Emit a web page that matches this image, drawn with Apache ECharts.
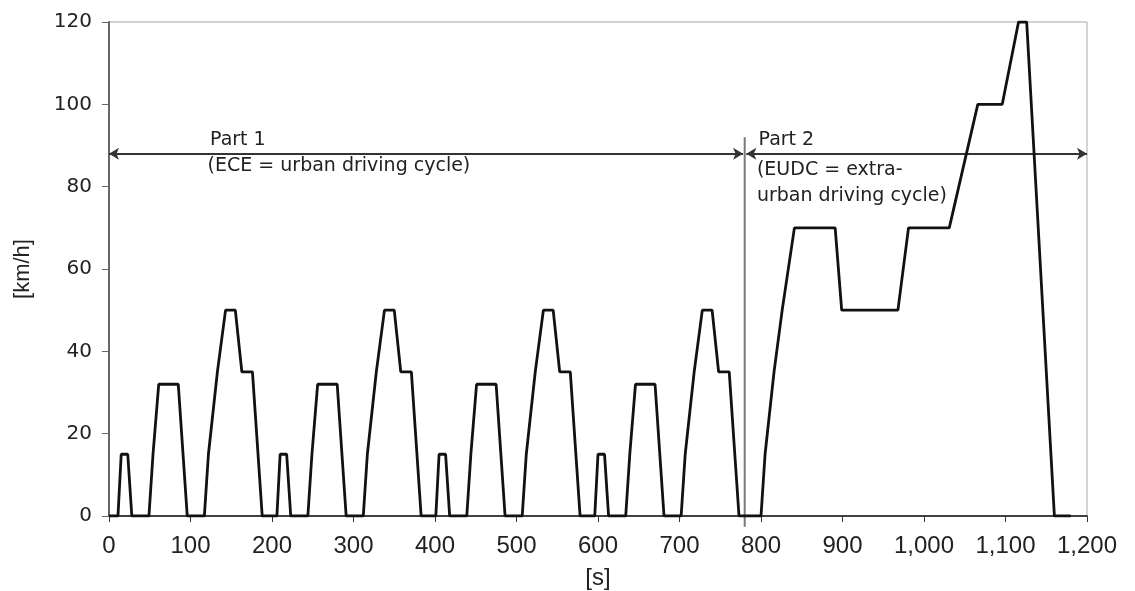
<!DOCTYPE html>
<html>
<head>
<meta charset="utf-8">
<script src="https://cdn.jsdelivr.net/npm/echarts@6/dist/echarts.min.js"></script>
<style>
  html, body { margin: 0; padding: 0; background: #fff; }
  #chart { width: 1135px; height: 591px; }
</style>
</head>
<body>
<div id="chart"></div>
<script>
// ECE urban cycle (one repetition, 195 s): time [s] and speed [km/h]
const eceTime  = [0, 11, 15, 23, 28, 49, 54, 56, 61, 85, 96, 117, 122, 124, 133, 135, 143, 155, 163, 176, 178, 188, 195];
const eceSpeed = [0,  0, 15, 15,  0,  0, 15, 15, 32, 32,  0,   0,  15,  15,  35,  35,  50,  50,  35,  35,  35,   0,   0];
const eceRepeats = 4;

// EUDC extra-urban cycle, time relative to its start
const eudcTime  = [0, 20, 25, 27, 36, 38, 46, 48, 61, 111, 119, 188, 201, 251, 286, 316, 336, 346, 380, 400];
const eudcSpeed = [0,  0, 15, 15, 35, 35, 50, 50, 70,  70,  50,  50,  70,  70, 100, 100, 120, 120,   0,   0];

// Phase boundary and annotation texts
const partBoundary = 780;
const cycleEnd = 1200;
const part1Title = 'Part 1';
const part1Desc = '(ECE = urban driving cycle)';
const part2Title = 'Part 2';
const part2Desc = '(EUDC = extra-\nurban driving cycle)';

// Assemble the full speed profile
const profile = [];
for (let r = 0; r < eceRepeats; r++) {
  const offset = r * eceTime[eceTime.length - 1];
  for (let i = 0; i < eceTime.length; i++) {
    if (r > 0 && i === 0) continue;
    profile.push([eceTime[i] + offset, eceSpeed[i]]);
  }
}
for (let i = 1; i < eudcTime.length; i++) {
  profile.push([eudcTime[i] + partBoundary, eudcSpeed[i]]);
}

const SANS = 'DejaVu Sans';
const ARIAL = 'Liberation Sans';
const INK = '#222';
const txt = { color: INK, fontFamily: SANS, fontSize: 19 };

const chart = echarts.init(document.getElementById('chart'), null, { renderer: 'canvas' });
chart.setOption({
  animation: false,
  backgroundColor: '#fff',
  grid: {
    left: 109, right: 48, top: 22, bottom: 75,
    containLabel: false, outerBoundsMode: 'none',
    show: true, borderColor: '#a8a8a8', borderWidth: 1
  },
  xAxis: {
    type: 'value', min: 0, max: cycleEnd, interval: 100,
    name: '[s]', nameLocation: 'middle', nameGap: 50,
    nameTextStyle: { color: INK, fontFamily: ARIAL, fontSize: 24 },
    axisLine: { show: true, onZero: false, lineStyle: { color: '#111', width: 1.5 } },
    axisTick: { show: true, length: 6, lineStyle: { color: '#333' } },
    axisLabel: { color: INK, fontFamily: ARIAL, fontSize: 24, margin: 18,
                 formatter: v => v.toLocaleString('en-US') },
    splitLine: { show: false }
  },
  yAxis: {
    type: 'value', min: 0, max: 120, interval: 20,
    name: '[km/h]', nameLocation: 'middle', nameGap: 75, nameRotate: 90,
    nameTextStyle: { color: INK, fontFamily: ARIAL, fontSize: 22 },
    axisLine: { show: true, lineStyle: { color: '#666', width: 2 } },
    axisTick: { show: true, length: 7, lineStyle: { color: '#666' } },
    axisLabel: { color: INK, fontFamily: SANS, fontSize: 20, margin: 17 },
    splitLine: { show: false }
  },
  series: [
    {
      name: 'speed',
      type: 'line',
      data: profile,
      symbol: 'none',
      lineStyle: { color: '#111', width: 2.8 },
      z: 5
    },
    {
      name: 'divider',
      type: 'line',
      data: [[partBoundary, -2.6], [partBoundary, 92]],
      symbol: 'none',
      clip: false,
      lineStyle: { color: '#7a7a7a', width: 2 },
      z: 3,
      markLine: {
        silent: true,
        symbol: ['arrow', 'arrow'],
        symbolSize: [9, 10],
        label: { show: false },
        lineStyle: { color: '#333', width: 2, type: 'solid' },
        data: [
          [{ coord: [0, 88] }, { coord: [partBoundary - 2, 88] }],
          [{ coord: [partBoundary + 2, 88] }, { coord: [cycleEnd, 88] }]
        ]
      },
      markPoint: {
        silent: true,
        symbol: 'circle',
        symbolSize: 0,
        label: { show: true, position: 'right', distance: 0, ...txt, lineHeight: 26 },
        data: [
          { coord: [124, 91.3], value: part1Title, label: { formatter: part1Title } },
          { coord: [121, 85], value: part1Desc, label: { formatter: part1Desc } },
          { coord: [797, 91.3], value: part2Title, label: { formatter: part2Title } },
          { coord: [795, 80.9], value: part2Desc, label: { formatter: part2Desc } }
        ]
      }
    }
  ]
});
</script>
</body>
</html>
